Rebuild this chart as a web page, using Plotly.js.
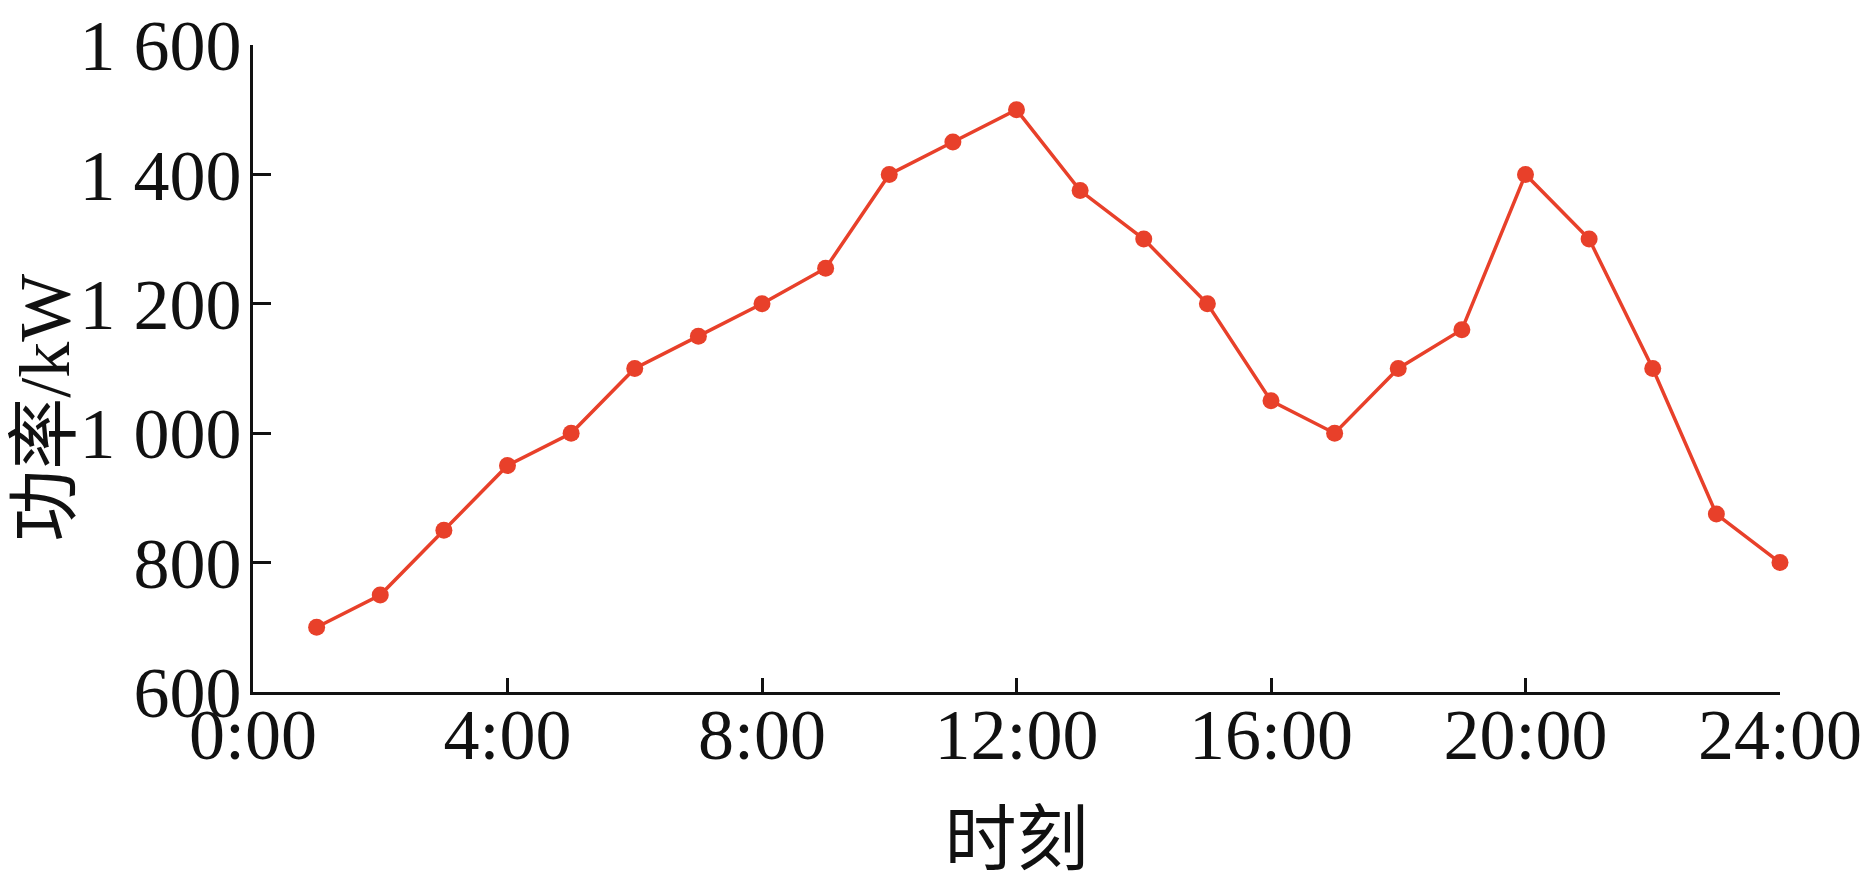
<!DOCTYPE html>
<html>
<head>
<meta charset="utf-8">
<script src="https://cdn.plot.ly/plotly-3.0.1.min.js"></script>
<style>html,body{margin:0;padding:0;background:#fff;}#chart{width:1863px;height:890px;}</style>
</head>
<body>
<div id="chart"></div>
<script>
// Data
const hours = [1,2,3,4,5,6,7,8,9,10,11,12,13,14,15,16,17,18,19,20,21,22,23,24];
const power = [700,750,850,950,1000,1100,1150,1200,1255,1400,1450,1500,1375,1300,1200,1050,1000,1100,1160,1400,1300,1100,875,800];
const xTickVals = [0,4,8,12,16,20,24];
const xTickText = ["0:00","4:00","8:00","12:00","16:00","20:00","24:00"];
const yTickVals = [600,800,1000,1200,1400,1600];
const yTickText = ["600","800","1 000","1 200","1 400","1 600"];
const xTitle = "时刻";
const yTitle = "功率/kW";

const FONT = "Liberation Serif, Noto Sans CJK SC, serif";

const trace = {
  x: hours, y: power, type: 'scatter', mode: 'lines+markers',
  line: {color: '#e8402a', width: 3.5},
  marker: {color: '#e8402a', size: 17},
  cliponaxis: false, hoverinfo: 'skip'
};

const layout = {
  width: 1863, height: 890,
  margin: {l: 253, r: 83, t: 45, b: 198},
  paper_bgcolor: '#fff', plot_bgcolor: '#fff',
  showlegend: false,
  font: {family: FONT, color: '#000', size: 72},
  xaxis: {
    range: [0, 24], tickvals: xTickVals, ticktext: xTickText,
    ticks: 'inside', ticklen: 14, tickwidth: 3, tickcolor: '#111',
    showline: true, linecolor: '#111', linewidth: 3, showgrid: false, zeroline: false,
    tickfont: {family: FONT, size: 72, color: '#111'},
    ticklabelstandoff: -22,
    title: {text: xTitle, font: {family: FONT, size: 72, color: '#111'}, standoff: 40},
    automargin: false, fixedrange: true
  },
  yaxis: {
    range: [600, 1600], tickvals: yTickVals, ticktext: yTickText,
    ticks: 'inside', ticklen: 18, tickwidth: 3, tickcolor: '#111',
    showline: true, linecolor: '#111', linewidth: 3, showgrid: false, zeroline: false,
    tickfont: {family: FONT, size: 72, color: '#111'},
    ticklabelstandoff: -6,
    automargin: false, fixedrange: true
  },
  annotations: [{
    text: yTitle, xref: 'paper', yref: 'paper', x: -0.136, y: 0.44,
    xanchor: 'center', yanchor: 'middle', textangle: -90, showarrow: false,
    font: {family: FONT, size: 72, color: '#111'}
  }]
};

Plotly.newPlot('chart', [trace], layout, {staticPlot: true, displayModeBar: false});
</script>
</body>
</html>
